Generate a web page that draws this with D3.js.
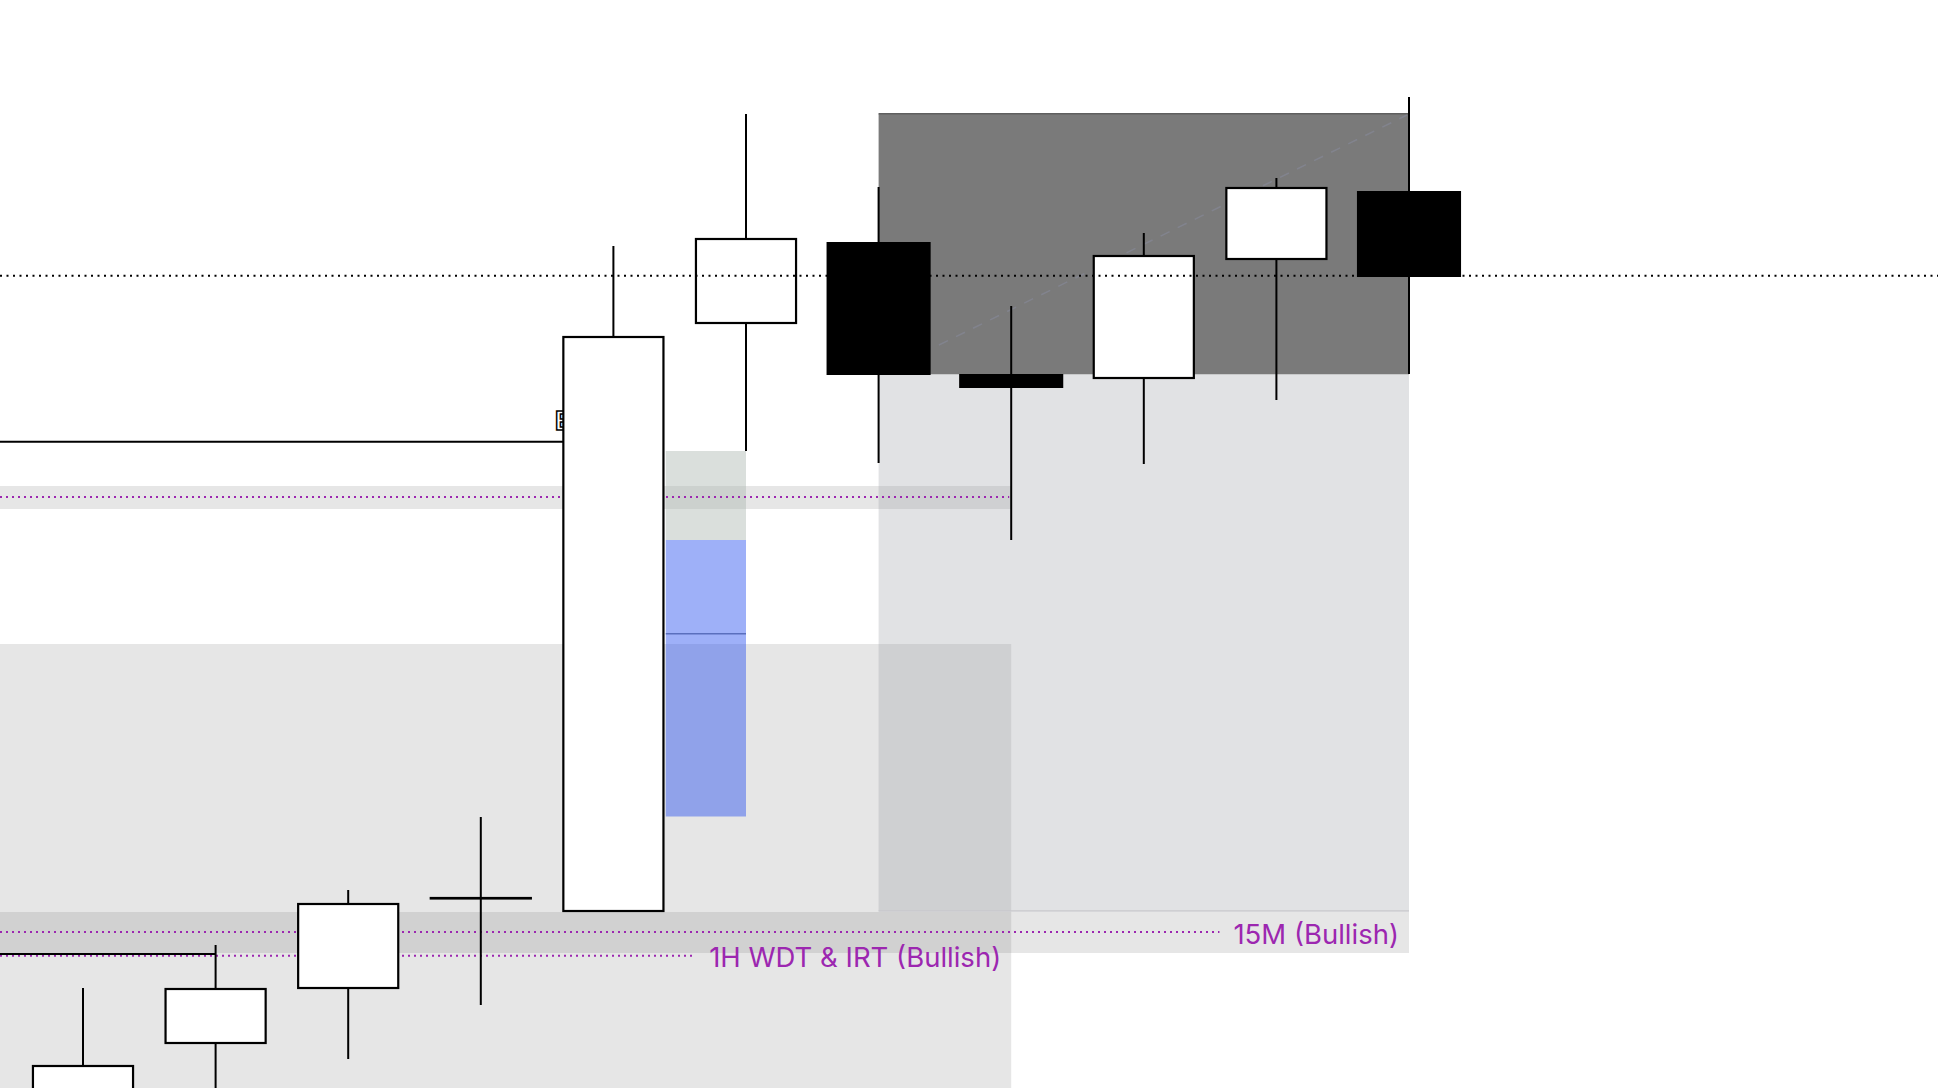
<!DOCTYPE html>
<html><head><meta charset="utf-8">
<script src="https://cdn.jsdelivr.net/npm/d3@7"></script>
<style>html,body{margin:0;padding:0;background:#fff;overflow:hidden}</style>
</head><body><svg id="c" width="1938" height="1088"></svg>
<script>
// ---------- data ----------
const candleIdx = [0, 1, 2, 3, 4, 5, 6, 7, 8, 9, 10];
const opens  = [2289.0, 2295.7, 2301.2, 2310.2, 2308.9, 2367.7, 2375.8, 2362.6, 2362.2, 2374.1, 2380.9];
const highs  = [2301.2, 2305.5, 2311.0, 2318.3, 2375.4, 2388.6, 2381.3, 2369.4, 2376.7, 2382.2, 2390.3];
const lows   = [2285.0, 2290.0, 2294.1, 2299.5, 2308.9, 2354.9, 2353.7, 2346.0, 2353.6, 2360.0, 2362.6];
const closes = [2293.4, 2301.1, 2309.6, 2310.2, 2366.3, 2376.1, 2362.5, 2361.2, 2374.4, 2381.2, 2372.3];

// zones: name, start index, end index, top price, bottom price
const zoneNames  = ["ob1H", "band1", "band15M", "slZone", "tpZone", "fvgUpper", "fvgBlue"];
const zoneStart  = [-2, -2, -2, 6, 6, 4.395, 4.395];
const zoneEnd    = [7, 7, 10, 10, 10, 5, 5];
const zoneTop    = [2335.6, 2351.4, 2308.8, 2362.57, 2388.63, 2354.9, 2346.0];
const zoneBottom = [2280.0, 2349.1, 2304.7, 2308.9, 2362.57, 2346.0, 2318.35];

// solid black levels
const solidPrices = [2355.83, 2304.6];
const solidEnd    = [4, 1];
// purple dotted levels
const purplePrices = [2350.3, 2306.8, 2304.43];
const purpleEnd    = [7, 10, 7];
const purpleLabels = ["", "15M (Bullish)", "1H WDT & IRT (Bullish)"];
// black dotted level (full width)
const dottedPrice = 2372.43;
// blue mid line
const midPrice = 2336.63;
const midStart = 4.395, midEnd = 5;
// faint diagonal
const diagIdx   = [6.455, 9.985];
const diagPrice = [2365.5, 2388.5];
// clipped label
const clippedLabel = "EQH";
const clippedLabelIdx = 3.56;
const clippedLabelPrice = 2356.99;

// ---------- scales ----------
const W = 1938, H = 1088;
const svg = d3.select("#c");
const x = d3.scaleLinear().domain([0, 10]).range([83, 1409]);
const y = d3.scaleLinear().domain([2400, 2291.2]).range([0, 1088]);
const step = x(1) - x(0);
const bodyW = step * 0.77;

// ---------- zones ----------
const zoneStyle = {
  ob1H:     {fill: "rgb(0,0,0)", op: 0.098},
  band1:    {fill: "rgb(0,0,0)", op: 0.098},
  band15M:  {fill: "rgb(99,99,99)", op: 0.16},
  slZone:   {fill: "rgb(148,151,159)", op: 0.28},
  tpZone:   {fill: "#7a7a7a", op: 1},
  fvgUpper: {fill: "rgb(171,182,175)", op: 0.44},
  fvgBlue:  {fill: "rgb(40,80,240)", op: 0.45}
};
const zones = zoneNames.map((n, i) => ({n, s: zoneStart[i], e: zoneEnd[i], t: zoneTop[i], b: zoneBottom[i]}));
svg.append("g").selectAll("rect").data(zones).join("rect")
  .attr("x", d => x(d.s)).attr("width", d => x(d.e) - x(d.s))
  .attr("y", d => y(d.t)).attr("height", d => y(d.b) - y(d.t))
  .attr("fill", d => zoneStyle[d.n].fill)
  .attr("fill-opacity", d => zoneStyle[d.n].op);

// borders of tp / sl zones
const tp = zones.find(d => d.n === "tpZone"), sl = zones.find(d => d.n === "slZone");
svg.append("line").attr("x1", x(tp.s)).attr("x2", x(tp.e)).attr("y1", y(tp.t)).attr("y2", y(tp.t))
  .attr("stroke", "#5f5f5f").attr("stroke-width", 1.5);
svg.append("line").attr("x1", x(sl.s)).attr("x2", x(sl.e)).attr("y1", y(sl.b)).attr("y2", y(sl.b))
  .attr("stroke", "#c8c9cd").attr("stroke-width", 1.5);

// blue mid line
svg.append("line").attr("x1", x(midStart)).attr("x2", x(midEnd)).attr("y1", y(midPrice)).attr("y2", y(midPrice))
  .attr("stroke", "#5a6fbd").attr("stroke-width", 1.5);

// diagonal dashed
svg.append("line").attr("x1", x(diagIdx[0])).attr("x2", x(diagIdx[1]))
  .attr("y1", y(diagPrice[0])).attr("y2", y(diagPrice[1]))
  .attr("stroke", "#8c90a6").attr("stroke-width", 1.5).attr("stroke-dasharray", "10,9").attr("opacity", 0.45);

// ---------- levels ----------
const font = "Inter, Roboto, 'Noto Sans', sans-serif";
const labelG = svg.append("g");
purplePrices.forEach((p, i) => {
  let xEnd;
  if (purpleLabels[i]) {
    const t = labelG.append("text").text(purpleLabels[i])
      .attr("x", x(purpleEnd[i]) - 10).attr("y", y(p) + 11.5)
      .attr("text-anchor", "end").attr("font-family", font).attr("font-size", 27.5)
      .attr("fill", "#9c27b0");
    const len = t.node().getComputedTextLength();
    xEnd = x(purpleEnd[i]) - 10 - len - 14;
  } else {
    xEnd = x(purpleEnd[i]) - 2;
  }
  svg.append("line").attr("x1", 0).attr("x2", xEnd).attr("y1", y(p)).attr("y2", y(p))
    .attr("stroke", "#9c27b0").attr("stroke-width", 2).attr("stroke-dasharray", "2,4");
});
solidPrices.forEach((p, i) => {
  svg.append("line").attr("x1", 0).attr("x2", x(solidEnd[i])).attr("y1", y(p)).attr("y2", y(p))
    .attr("stroke", "#000").attr("stroke-width", 2);
});
svg.append("text").text(clippedLabel)
  .attr("x", x(clippedLabelIdx)).attr("y", y(clippedLabelPrice))
  .attr("font-family", font).attr("font-size", 25).attr("font-weight", 700)
  .attr("fill", "#fff").attr("stroke", "#000").attr("stroke-width", 1.5);

// ---------- candles ----------
const candles = candleIdx.map((i, k) => ({i, o: opens[k], h: highs[k], l: lows[k], c: closes[k]}));
const cg = svg.append("g");
cg.selectAll("line").data(candles).join("line")
  .attr("x1", d => x(d.i)).attr("x2", d => x(d.i))
  .attr("y1", d => y(d.h)).attr("y2", d => y(d.l))
  .attr("stroke", "#000").attr("stroke-width", 2);
cg.selectAll("rect").data(candles).join("rect")
  .each(function(d) {
    const up = d.c >= d.o;
    const w = up ? bodyW - 2 : bodyW + 2;
    const top = y(Math.max(d.o, d.c)), bot = y(Math.min(d.o, d.c));
    d3.select(this)
      .attr("x", x(d.i) - w / 2).attr("width", w)
      .attr("y", top).attr("height", Math.max(bot - top, 0.5))
      .attr("fill", up ? "#fff" : "#000")
      .attr("stroke", up ? "#000" : "none").attr("stroke-width", 2.2);
  });

// black dotted line on top
svg.append("line").attr("x1", 0).attr("x2", W).attr("y1", y(dottedPrice)).attr("y2", y(dottedPrice))
  .attr("stroke", "#000").attr("stroke-width", 2).attr("stroke-dasharray", "2,4.5");

// labels on top
svg.node().appendChild(labelG.node());
</script>
</body></html>
